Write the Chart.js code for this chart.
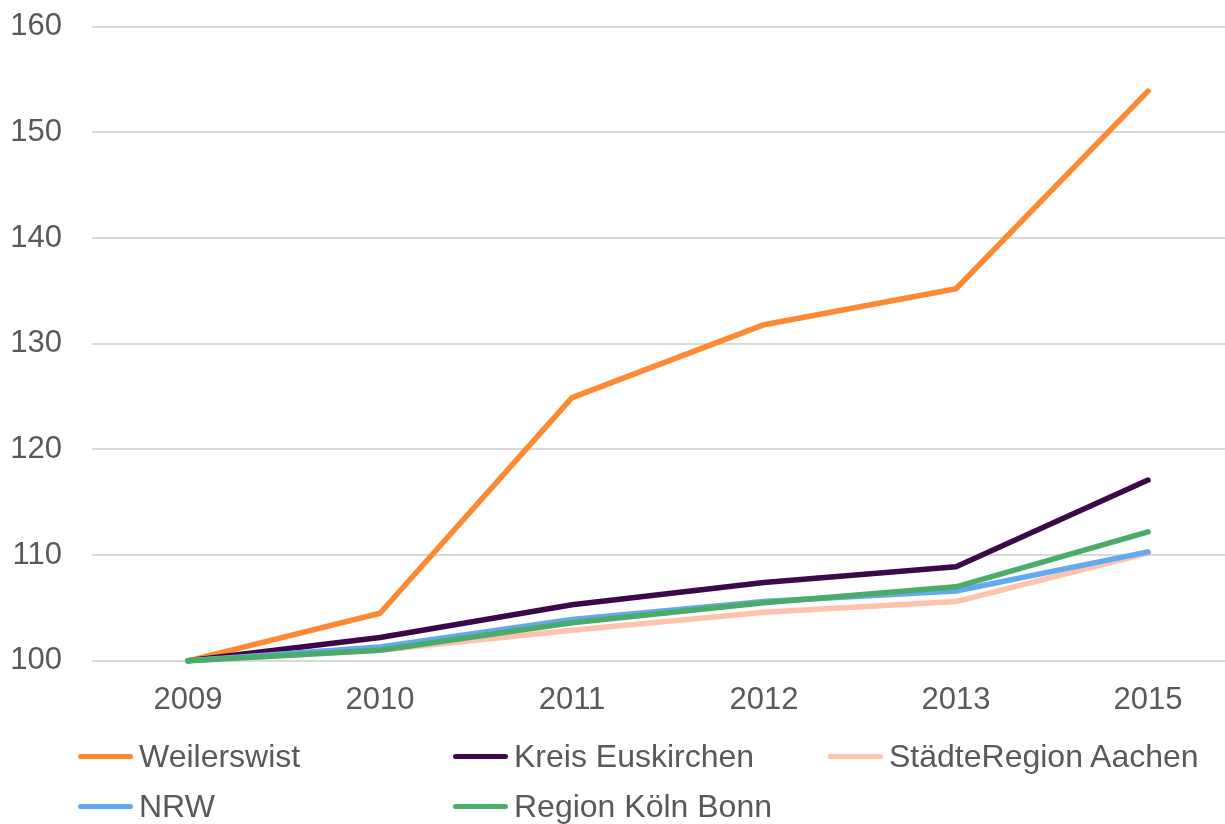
<!DOCTYPE html>
<html>
<head>
<meta charset="utf-8">
<script src="https://cdn.jsdelivr.net/npm/chart.js@4/dist/chart.umd.min.js"></script>
<style>
  html, body { margin: 0; padding: 0; background: #fff; overflow: hidden; width: 1225px; height: 824px; }
  #wrap { position: absolute; left: 0; top: -22px; width: 1244px; height: 762px; }
  #legend { position: absolute; left: 78px; top: 738px; display: grid; grid-template-columns: 375px 375px 375px; row-gap: 13px;
            font-family: "Liberation Sans", Arial, sans-serif; font-size: 32px; color: #595959; }
  .item { display: flex; align-items: center; height: 37px; white-space: nowrap; }
  .sw { width: 55px; height: 5.5px; border-radius: 3px; margin-right: 6px; flex: none; }
</style>
</head>
<body>
<div id="wrap"><canvas id="c"></canvas></div>
<div id="legend"></div>
<script>
const years = ["2009", "2010", "2011", "2012", "2013", "2015"];
const seriesNames = ["Weilerswist", "Kreis Euskirchen", "StädteRegion Aachen", "NRW", "Region Köln Bonn"];
const weilerswist = [100, 104.5, 124.9, 131.8, 135.2, 153.9];
const kreisEuskirchen = [100, 102.2, 105.3, 107.4, 108.9, 117.1];
const staedteRegionAachen = [100, 101.0, 102.9, 104.6, 105.6, 110.2];
const nrw = [100, 101.3, 103.9, 105.6, 106.6, 110.3];
const regionKoelnBonn = [100, 101.0, 103.6, 105.5, 107.0, 112.2];
const colors = ["#FF8933", "#3C0848", "#FFC3AD", "#62A9EE", "#4BAB68"];
const yTicks = [100, 110, 120, 130, 140, 150, 160];

const values = [weilerswist, kreisEuskirchen, staedteRegionAachen, nrw, regionKoelnBonn];
const FONT = "'Liberation Sans', Arial, sans-serif";

const datasets = seriesNames.map((name, i) => ({
  label: name,
  data: values[i],
  borderColor: colors[i],
  backgroundColor: colors[i],
  borderWidth: 5.5,
  pointRadius: 0,
  pointHoverRadius: 0,
  tension: 0,
  borderCapStyle: 'round',
  borderJoinStyle: 'round',
  fill: false,
  clip: false,
  order: seriesNames.length - i
}));

new Chart(document.getElementById('c'), {
  type: 'line',
  data: { labels: years, datasets },
  options: {
    responsive: true,
    maintainAspectRatio: false,
    animation: false,
    layout: { padding: { top: 7, left: 12, right: 0, bottom: 0 } },
    plugins: { legend: { display: false }, tooltip: { enabled: false } },
    scales: {
      x: {
        offset: true,
        grid: { display: false, drawTicks: false, offset: true },
        border: { display: false },
        ticks: { color: '#595959', font: { family: FONT, size: 31 }, padding: 21, maxRotation: 0 }
      },
      y: {
        min: 100, max: 160,
        afterBuildTicks: (axis) => { axis.ticks = yTicks.map(v => ({ value: v })); },
        afterFit: (axis) => { axis.width = 80; },
        grid: { color: '#D9D9D9', lineWidth: 2, drawTicks: false },
        border: { display: false },
        ticks: { color: '#595959', font: { family: FONT, size: 31 }, padding: 30 }
      }
    }
  }
});

const legend = document.getElementById('legend');
seriesNames.forEach((name, i) => {
  const item = document.createElement('div');
  item.className = 'item';
  const sw = document.createElement('span');
  sw.className = 'sw';
  sw.style.background = colors[i];
  const t = document.createElement('span');
  t.textContent = name;
  item.appendChild(sw); item.appendChild(t);
  legend.appendChild(item);
});
</script>
</body>
</html>
